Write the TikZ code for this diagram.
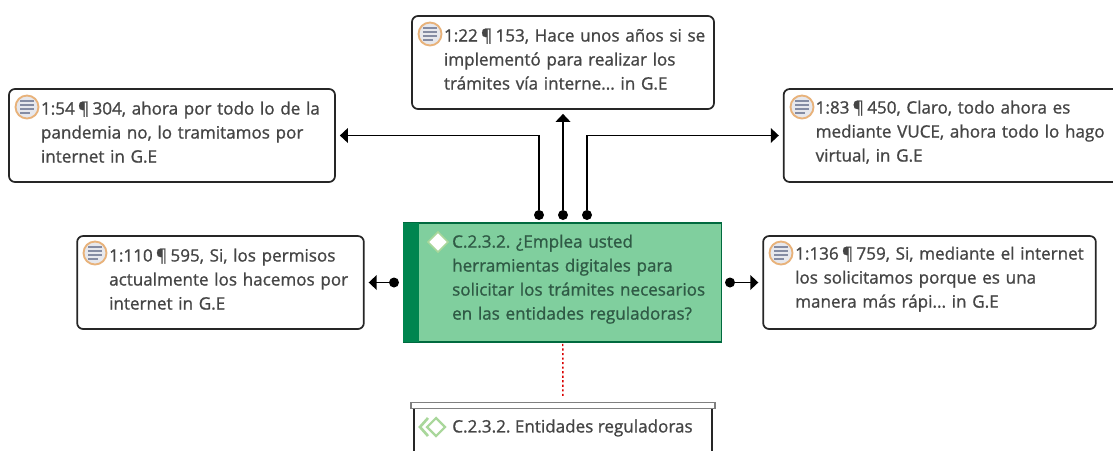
\documentclass[tikz,border=0pt]{standalone}
\usepackage{fontspec}
\setmainfont{Open Sans}[FakeBold=1]
\usetikzlibrary{arrows.meta}
\definecolor{notetext}{HTML}{454545}
\definecolor{codefill}{HTML}{80CF9E}
\definecolor{codebar}{HTML}{00854F}
\definecolor{codetext}{HTML}{2F5A45}
\definecolor{iconring}{HTML}{E8B27A}
\definecolor{iconline}{HTML}{858CA3}
\definecolor{diamondline}{HTML}{A9D79B}
\newcommand{\pilcrow}{\kern-1.8pt¶\kern-1.8pt}
\tikzset{
  boxtext/.style={font=\fontsize{12.8}{18}\selectfont, align=left, inner xsep=2pt, inner ysep=0pt,
    execute at end node={\par\vspace*{5pt}}},
  notebox/.style={boxtext, draw=black!85, line width=1.3pt, fill=white, rounded corners=4.5pt,
    text=notetext, minimum height=69.75pt, text width=#1,
    execute at begin node={\frenchspacing\leftskip=22pt}},
  codebox/.style={boxtext, draw=codebar!80!black, line width=0.9pt, fill=codefill, text=codetext,
    minimum height=89.25pt, text width=#1,
    execute at begin node={\frenchspacing\leftskip=34.75pt}},
  linkdot/.style={circle, fill=black, inner sep=0pt, minimum size=7.5pt},
  link/.style={line width=1.1pt, -{Triangle[length=6pt,width=11pt]}, shorten >=3pt},
  noteicon/.pic={
    \draw[iconring, line width=1.4pt, fill=iconline!20] (0,0) circle (11.5);
    \foreach \y/\w in {-6/7,-2/7,2/7,6/3}
      \draw[iconline, line width=1.1pt] (-7,\y) -- (\w,\y);
  },
}
\begin{document}
\begin{tikzpicture}[x=0.75pt, y=-0.75pt]
  \useasboundingbox (0,0) rectangle (1113,450);
  \fill[white] (0,0) rectangle (1113,450);

  \node[notebox=240.5pt] (b54) at (172,135.5) {1:54 \pilcrow{} 304, ahora por todo lo de la\\pandemia no, lo tramitamos por\\internet in G.E};
  \node[notebox=222.5pt] (b22) at (563,62.5) {1:22 \pilcrow{} 153, Hace unos años si se\\implementó para realizar los\\trámites vía interne... in G.E};
  \node[notebox=253pt] (b83) at (955,135.5) {1:83 \pilcrow{} 450, Claro, todo ahora es\\mediante VUCE, ahora todo lo hago\\virtual, in G.E};
  \node[notebox=211pt] (b110) at (220.5,282.5) {1:110 \pilcrow{} 595, Si, los permisos\\actualmente los hacemos por\\internet in G.E};
  \node[notebox=245.5pt] (b136) at (929.5,282.5) {1:136 \pilcrow{} 759, Si, mediante el internet\\los solicitamos porque es una\\manera más rápi... in G.E};

  \node[codebox=235pt] (main) at (562.5,282.5) {C.2.3.2. ¿Emplea usted\\herramientas digitales para\\solicitar los trámites necesarios\\en las entidades reguladoras?};
  \node[fill=codebar, inner sep=0pt, minimum width=12pt, minimum height=89.25pt] (mainbar) at (411,282.5) {};

  \pic at (27,107) {noteicon};
  \pic at (430,34) {noteicon};
  \pic at (802,107) {noteicon};
  \pic at (95,253) {noteicon};
  \pic at (781,253) {noteicon};

  \draw[diamondline, line width=1.2pt, fill=white] (428,242) -- (438,232) -- (448,242) -- (438,252) -- cycle;

  % dots on the main box
  \node[linkdot] (d54) at (539,215) {};
  \node[linkdot] (d22) at (563,215) {};
  \node[linkdot] (d83) at (587,215) {};
  \node[linkdot] (d110) at (394,282.5) {};
  \node[linkdot] (d136) at (730,282.5) {};

  \draw[link] (d54) |- (b54);
  \draw[link] (d22) -- (b22);
  \draw[link] (d83) |- (b83);
  \draw[link] (d110) -- (b110);
  \draw[link] (d136) -- (b136);

  % group box cut by the edge
  \draw[black!85, line width=1.2pt] (414,409) -- (414,460);
  \draw[black!85, line width=1.2pt] (712,409) -- (712,460);
  \node[draw=black!50, line width=1pt, fill=white, inner sep=0pt, minimum width=228pt, minimum height=4.5pt] (head) at (563,405.5) {};
  \draw[red!85!black, line width=1.1pt, dash pattern=on 1.6pt off 1.8pt, shorten <=1pt, shorten >=3pt] (main) -- (head);

  \draw[diamondline, line width=2pt] (428,418) -- (420,427) -- (428,436);
  \draw[diamondline, line width=1.6pt, fill=white] (427,427) -- (436,418) -- (445,427) -- (436,436) -- cycle;
  \node[font=\fontsize{12.8}{18}\selectfont, text=notetext, anchor=west, inner sep=0pt] (sub) at (452,428) {\frenchspacing C.2.3.2. Entidades reguladoras};
\end{tikzpicture}
\end{document}
